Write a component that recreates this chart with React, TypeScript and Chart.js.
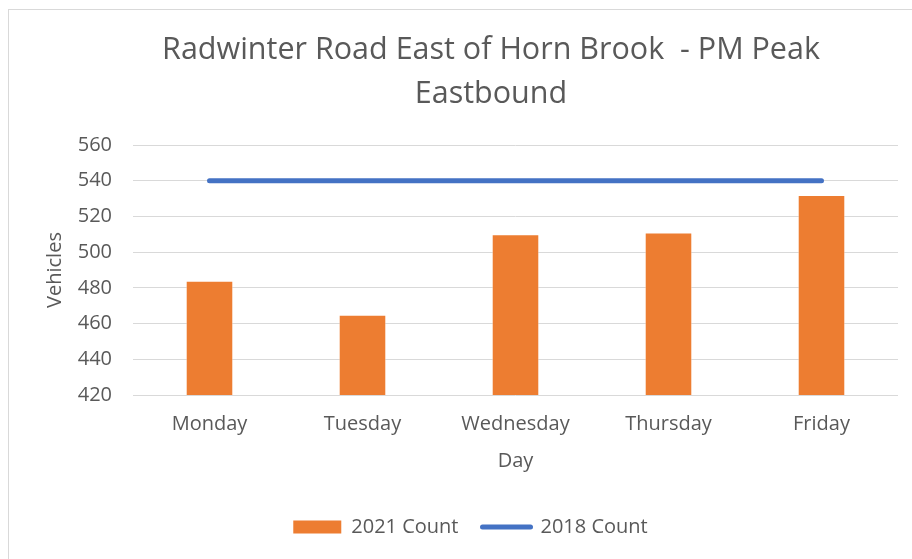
import React, { useEffect, useRef } from "react";
import { Chart, registerables } from "chart.js";

Chart.register(...registerables);

const titleLines = ["Radwinter Road East of Horn Brook  - PM Peak", "Eastbound"];
const days = ["Monday", "Tuesday", "Wednesday", "Thursday", "Friday"];
const count2021 = [484, 465, 510, 511, 532];
const count2018 = [540, 540, 540, 540, 540];
const yMin = 420;
const yMax = 560;
const yStep = 20;
const seriesNames = ["2021 Count", "2018 Count"];
const xTitle = "Day";
const yTitle = "Vehicles";

const ORANGE = "#ED7D31";
const BLUE = "#4472C4";
const TEXT = "#595959";
const GRID = "#D9D9D9";
const FONT = "'Open Sans', 'Noto Sans', sans-serif";

const titlePlugin = {
  id: "customTitle",
  afterDraw(chart: any) {
    const ctx = chart.ctx;
    ctx.save();
    ctx.font = `30.5px ${FONT}`;
    ctx.fillStyle = TEXT;
    ctx.textAlign = "center";
    ctx.textBaseline = "alphabetic";
    titleLines.forEach((line, i) => {
      ctx.fillText(line, 482, 49 + i * 44);
    });
    ctx.restore();
  },
};

export default function App() {
  const ref = useRef<HTMLCanvasElement | null>(null);

  useEffect(() => {
    if (!ref.current) return;
    const chart = new Chart(ref.current, {
      type: "bar",
      data: {
        labels: days,
        datasets: [
          {
            type: "bar",
            label: seriesNames[0],
            data: count2021,
            backgroundColor: ORANGE,
            borderColor: "rgba(255,255,255,0.45)",
            borderWidth: 1,
            barPercentage: 0.311,
            categoryPercentage: 1,
          },
          {
            type: "line",
            label: seriesNames[1],
            data: count2018,
            borderColor: BLUE,
            backgroundColor: BLUE,
            borderWidth: 5,
            borderCapStyle: "round",
            pointRadius: 0,
            pointHoverRadius: 0,
            fill: false,
          } as any,
        ],
      },
      options: {
        responsive: false,
        animation: false,
        devicePixelRatio: 1,
        layout: { padding: { left: 34, right: 14, top: 135, bottom: 12 } },
        plugins: {
          title: { display: false },
          tooltip: { enabled: false },
          legend: {
            display: true,
            position: "bottom",
            labels: {
              usePointStyle: true,
              pointStyleWidth: 48,
              boxHeight: 13,
              padding: 24,
              color: TEXT,
              font: { family: FONT, size: 20 },
              generateLabels: () => [
                {
                  text: seriesNames[0],
                  fillStyle: ORANGE,
                  strokeStyle: ORANGE,
                  lineWidth: 0,
                  pointStyle: "rect",
                  datasetIndex: 0,
                  fontColor: TEXT,
                  hidden: false,
                },
                {
                  text: seriesNames[1],
                  fillStyle: BLUE,
                  strokeStyle: BLUE,
                  lineWidth: 5,
                  lineCap: "round",
                  pointStyle: "line",
                  datasetIndex: 1,
                  fontColor: TEXT,
                  hidden: false,
                },
              ],
            },
          },
        },
        scales: {
          x: {
            grid: { display: false, drawTicks: false },
            border: { display: false },
            ticks: {
              color: TEXT,
              font: { family: FONT, size: 20 },
              padding: 17,
              maxRotation: 0,
            },
            title: {
              display: true,
              text: xTitle,
              color: TEXT,
              font: { family: FONT, size: 20 },
              padding: { top: 0, bottom: 20 },
            },
            afterFit: (scale: any) => {
              scale.height = 98;
            },
          },
          y: {
            min: yMin,
            max: yMax,
            grid: { color: GRID, lineWidth: 1, drawTicks: false },
            border: { display: false },
            ticks: {
              stepSize: yStep,
              color: TEXT,
              font: { family: FONT, size: 20 },
              padding: 21,
            },
            title: {
              display: true,
              text: yTitle,
              color: TEXT,
              font: { family: FONT, size: 20 },
              padding: { top: 0, bottom: 0 },
            },
            afterFit: (scale: any) => {
              scale.width = 90;
            },
          },
        },
      },
      plugins: [titlePlugin],
    });
    return () => chart.destroy();
  }, []);

  return (
    <div
      style={{
        position: "fixed",
        left: 0,
        top: 0,
        width: 912,
        height: 559,
        overflow: "hidden",
        background: "#fff",
      }}
    >
      <div
        style={{
          position: "absolute",
          left: 8,
          top: 9,
          width: 930,
          height: 580,
          borderLeft: `1px solid ${GRID}`,
          borderTop: `1px solid ${GRID}`,
        }}
      >
        <canvas ref={ref} width={903} height={549} style={{ display: "block" }} />
      </div>
    </div>
  );
}
